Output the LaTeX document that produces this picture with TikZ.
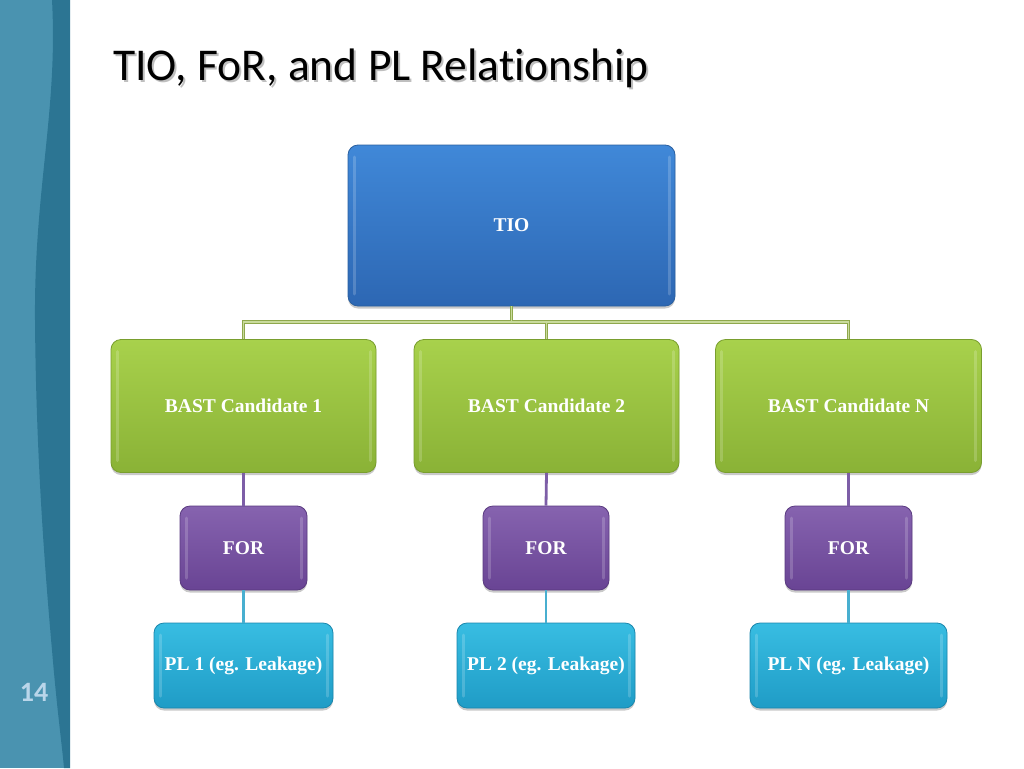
\documentclass[tikz,border=0pt]{standalone}
\usepackage{fontspec}
\setmainfont{Liberation Serif}
\newfontfamily\titlefont[Ligatures=NoCommon]{Carlito}
\usetikzlibrary{shadows}
\definecolor{bandlight}{HTML}{4A93B0}
\definecolor{banddark}{HTML}{2C7593}
\definecolor{pagenum}{HTML}{BAD6EA}
\definecolor{tiotop}{HTML}{4088D8}
\definecolor{tiobot}{HTML}{2D67B3}
\definecolor{tioedge}{HTML}{2A5F9F}
\definecolor{grntop}{HTML}{A8D14C}
\definecolor{grnbot}{HTML}{8AB236}
\definecolor{grnedge}{HTML}{799E2E}
\definecolor{purtop}{HTML}{8663AF}
\definecolor{purbot}{HTML}{694494}
\definecolor{puredge}{HTML}{5A3A80}
\definecolor{cyntop}{HTML}{38BDE2}
\definecolor{cynbot}{HTML}{1F9CC6}
\definecolor{cynedge}{HTML}{1A87AD}
\definecolor{busdark}{HTML}{8FA84C}
\definecolor{buslight}{HTML}{C9DB9C}
\definecolor{purline}{HTML}{7D5EA7}
\definecolor{cynline}{HTML}{48AFD0}
\tikzset{
  box/.style={rounded corners=10pt, line width=0.8pt, inner sep=0pt,
    text=white, font=\fontsize{19.5}{23}\selectfont\bfseries,
    drop shadow={shadow xshift=0pt, shadow yshift=-2.5pt, opacity=0.35, fill=black!60},
    path picture={
      \draw[white, opacity=0.18, line width=3pt, line cap=round]
        ([xshift=6pt,yshift=-12pt]path picture bounding box.north west) --
        ([xshift=6pt,yshift=12pt]path picture bounding box.south west);
      \draw[white, opacity=0.18, line width=3pt, line cap=round]
        ([xshift=-6pt,yshift=-12pt]path picture bounding box.north east) --
        ([xshift=-6pt,yshift=12pt]path picture bounding box.south east);
    }},
  tiobox/.style={box, top color=tiotop, bottom color=tiobot, draw=tioedge},
  bastbox/.style={box, top color=grntop, bottom color=grnbot, draw=grnedge},
  forbox/.style={box, top color=purtop, bottom color=purbot, draw=puredge},
  plbox/.style={box, top color=cyntop, bottom color=cynbot, draw=cynedge},
  busouter/.style={draw=busdark, line width=3.8pt},
  businner/.style={draw=buslight, line width=1.5pt},
  purconn/.style={draw=purline, line width=2.8pt},
  cynconn/.style={draw=cynline, line width=2.8pt}
}
\begin{document}
\begin{tikzpicture}[x=1pt,y=-1pt]
\useasboundingbox (0,0) rectangle (1024,768);
\fill[white] (0,0) rectangle (1024,768);
% left band
\fill[bandlight] (0,0) rectangle (70,768);
\fill[banddark] (52,0) .. controls (58,110) and (34,190) .. (35,320)
  .. controls (36,450) and (44,560) .. (52,650)
  .. controls (57,710) and (62,745) .. (64,768) -- (70,768) -- (70,0) -- cycle;
\node[text=pagenum, font=\titlefont\fontsize{28}{30}\selectfont\bfseries] (pnum) at (34,692) {14};
% title
\node[anchor=base west, inner sep=0pt, text=black!25, font=\titlefont\fontsize{45.5}{50}\selectfont] (titleshadow) at (115,82) {TIO, FoR, and PL Relationship};
\node[anchor=base west, inner sep=0pt, text=black, font=\titlefont\fontsize{45.5}{50}\selectfont] (title) at (113,80) {TIO, FoR, and PL Relationship};
% boxes
\node[tiobox, minimum width=327pt, minimum height=161pt] (tio) at (511.5,225.5) {TIO};
\node[bastbox, minimum width=265pt, minimum height=133pt] (b1) at (243.5,406) {BAST Candidate 1};
\node[bastbox, minimum width=265pt, minimum height=133pt] (b2) at (546.5,406) {BAST Candidate 2};
\node[bastbox, minimum width=266pt, minimum height=133pt] (bn) at (848.5,406) {BAST Candidate N};
\node[forbox, minimum width=127pt, minimum height=84pt] (f1) at (243.5,548) {FOR};
\node[forbox, minimum width=126pt, minimum height=84pt] (f2) at (546,548) {FOR};
\node[forbox, minimum width=127pt, minimum height=84pt] (fn) at (848.5,548) {FOR};
\node[plbox, minimum width=179pt, minimum height=85pt] (p1) at (243.5,665.5) {PL 1 (eg. Leakage)};
\node[plbox, minimum width=178pt, minimum height=85pt] (p2) at (546,665.5) {PL 2 (eg. Leakage)};
\node[plbox, minimum width=197pt, minimum height=85pt] (pn) at (848.5,665.5) {PL N (eg. Leakage)};
% bus connectors
\coordinate (bus) at (511.5,322);
\foreach \st in {busouter,businner}{
  \draw[\st] (tio.south) -- (bus) -| (b1.north);
  \draw[\st] (bus) -| (b2.north);
  \draw[\st] (bus) -| (bn.north);
}
% lower connectors
\draw[purconn] (b1.south) -- (f1.north);
\draw[purconn] (b2.south) -- (f2.north);
\draw[purconn] (bn.south) -- (fn.north);
\draw[cynconn] (f1.south) -- (p1.north);
\draw[cynconn] (f2.south) -- (p2.north);
\draw[cynconn] (fn.south) -- (pn.north);
\end{tikzpicture}
\end{document}
